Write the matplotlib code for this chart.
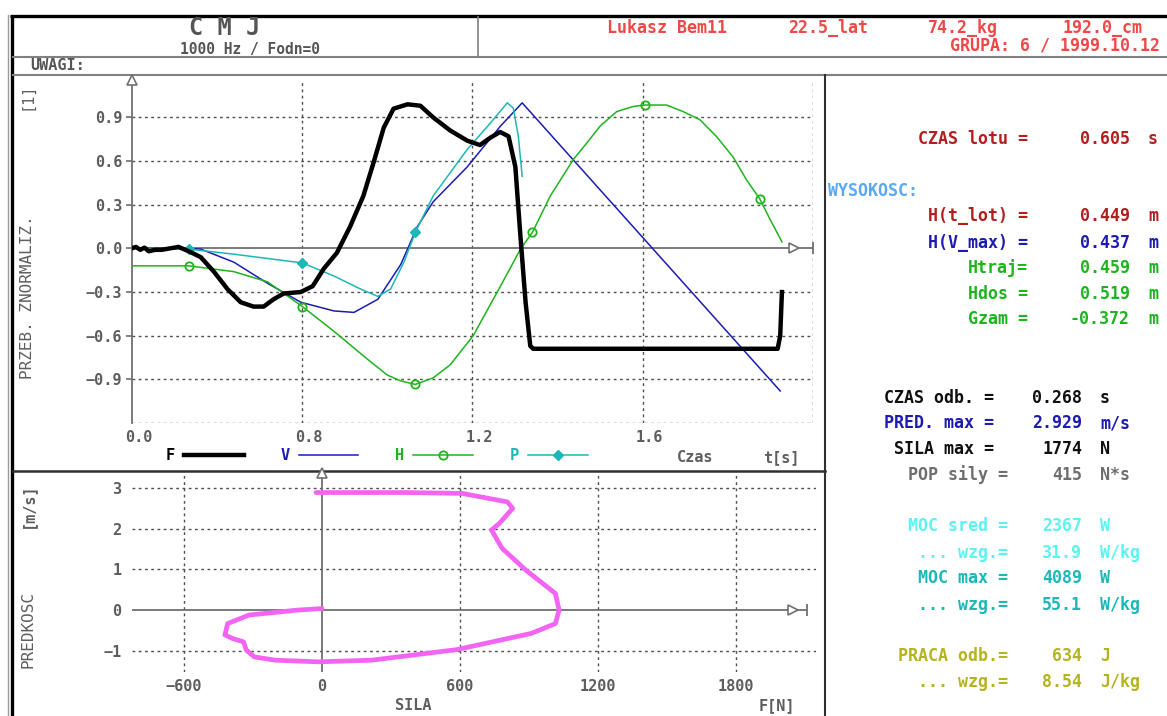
import matplotlib.pyplot as plt
from matplotlib import transforms as mtransforms

# ---- normalised jump traces (time axis in s) ----
f_t = [0.400, 0.410, 0.420, 0.430, 0.440, 0.455, 0.470, 0.490, 0.510, 0.534, 0.562, 0.593,
       0.625, 0.656, 0.686, 0.710, 0.733, 0.757, 0.797, 0.825, 0.851, 0.882, 0.913, 0.944,
       0.968, 0.992, 1.015, 1.048, 1.078, 1.108, 1.148, 1.188, 1.218, 1.242, 1.265, 1.285,
       1.301, 1.313, 1.325, 1.336, 1.343, 1.917, 1.923, 1.927]
f_val = [0.0, 0.01, -0.01, 0.005, -0.02, -0.01, -0.01, 0.0, 0.01, -0.02, -0.06, -0.16,
         -0.28, -0.37, -0.40, -0.40, -0.35, -0.31, -0.30, -0.26, -0.14, -0.03, 0.15, 0.36,
         0.59, 0.83, 0.96, 0.99, 0.98, 0.90, 0.81, 0.74, 0.71, 0.76, 0.80, 0.77,
         0.56, 0.08, -0.37, -0.67, -0.69, -0.69, -0.60, -0.30]

v_t = [0.400, 0.530, 0.562, 0.640, 0.719, 0.797, 0.875, 0.922, 0.978, 1.032, 1.071, 1.108,
       1.188, 1.266, 1.317, 1.923]
v_val = [0.0, 0.0, -0.005, -0.095, -0.24, -0.37, -0.43, -0.44, -0.35, -0.11, 0.15, 0.32,
         0.56, 0.84, 1.0, -0.98]

h_t = [0.400, 0.534, 0.640, 0.719, 0.801, 0.875, 0.953, 1.000, 1.031, 1.066, 1.108, 1.148,
       1.202, 1.266, 1.313, 1.341, 1.383, 1.437, 1.469, 1.500, 1.539, 1.578, 1.606, 1.656,
       1.695, 1.734, 1.773, 1.813, 1.844, 1.875, 1.899, 1.927]
h_val = [-0.12, -0.12, -0.16, -0.23, -0.40, -0.57, -0.76, -0.87, -0.91, -0.935, -0.89, -0.80,
         -0.60, -0.26, -0.005, 0.11, 0.36, 0.61, 0.725, 0.84, 0.94, 0.975, 0.985, 0.985,
         0.94, 0.885, 0.77, 0.625, 0.47, 0.34, 0.20, 0.045]
h_marks = [1, 4, 9, 15, 22, 29]

p_t = [0.400, 0.534, 0.640, 0.801, 0.875, 0.938, 0.978, 1.008, 1.040, 1.066, 1.108, 1.188,
       1.242, 1.282, 1.296, 1.308, 1.317]
p_val = [0.0, -0.005, -0.04, -0.10, -0.19, -0.28, -0.33, -0.28, -0.09, 0.11, 0.36, 0.68,
         0.86, 1.0, 0.965, 0.77, 0.495]
p_marks = [1, 3, 9]

t_grid = [0.8, 1.2, 1.6, 2.0]
t_ticks = [0.4, 0.8, 1.2, 1.6]
t_labels = ['0.0', '0.8', '1.2', '1.6']
n_ticks = [-0.9, -0.6, -0.3, 0.0, 0.3, 0.6, 0.9]
n_labels = ['\u22120.9', '\u22120.6', '\u22120.3', '0.0', '0.3', '0.6', '0.9']
n_grid = [-1.2, -0.9, -0.6, -0.3, 0.3, 0.6, 0.9]

# ---- force / velocity loop ----
sila = [0, -109, -317, -410, -422, -387, -341, -329, -294, -202, -16, 215, 586, 911, 1015,
        1031, 1015, 887, 783, 737, 771, 829, 806, 609, 354, -26]
predkosc = [0.04, 0.0, -0.12, -0.33, -0.61, -0.70, -0.78, -0.98, -1.15, -1.23, -1.27, -1.23,
            -0.97, -0.57, -0.33, 0.0, 0.41, 0.98, 1.52, 1.97, 2.13, 2.50, 2.66, 2.87, 2.89, 2.89]
sila_ticks = [-600, 0, 600, 1200, 1800]
sila_labels = ['\u2212600', '0', '600', '1200', '1800']
sila_grid = [-600, 600, 1200, 1800]
pred_ticks = [-1, 0, 1, 2, 3]
pred_labels = ['\u22121', '0', '1', '2', '3']
pred_grid = [-1, 1, 2, 3]

# ---- results table ----
stat_names = ['CZAS lotu =', 'H(t_lot) =', 'H(V_max) =', 'Htraj=', 'Hdos =', 'Gzam =',
              'CZAS odb. =', 'PRED. max =', 'SILA max =', 'POP sily =',
              'MOC sred =', '... wzg.=', 'MOC max =', '... wzg.=',
              'PRACA odb.=', '... wzg.=']
stat_values = ['0.605', '0.449', '0.437', '0.459', '0.519', '-0.372',
               '0.268', '2.929', '1774', '415', '2367', '31.9', '4089', '55.1', '634', '8.54']
stat_units = ['s', 'm', 'm', 'm', 'm', 'm', 's', 'm/s', 'N', 'N*s',
              'W', 'W/kg', 'W', 'W/kg', 'J', 'J/kg']

person = ['Lukasz Bem11', '22.5_lat', '74.2_kg', '192.0_cm']
group_line = 'GRUPA: 6 / 1999.10.12'

W, H = 1167, 716
plt.rcParams['font.family'] = ['DejaVu Sans Mono']
plt.rcParams['font.weight'] = 'bold'
fig = plt.figure(figsize=(W / 100, H / 100), dpi=100)

GRAY = '#5e5e5e'
AXIS = '#707070'
DARKRED = '#b41e1e'
BLUE = '#1c1cb4'
GREEN = '#1eb41e'
CYAN = '#1cb8b8'
TXT = 12


def px_axes(left, top, right, bottom, **kw):
    return fig.add_axes([left / W, 1 - bottom / H, (right - left) / W, (bottom - top) / H], **kw)


# screen frame, drawn in pixel units
frame = px_axes(0, 0, W, H, zorder=0)
frame.set_xlim(0, W)
frame.set_ylim(H, 0)
frame.axis('off')
frame.plot([10, W], [16, 16], color='black', lw=2.4, solid_capstyle='butt')
frame.plot([12, 12], [15, H], color='black', lw=2.4, solid_capstyle='butt')
frame.plot([8, 8], [15, H], color='#9a9a9a', lw=1.0)
frame.plot([478, 478], [17, 57], color='#808080', lw=1.2)
frame.plot([13, W], [57, 57], color='#808080', lw=1.5)
frame.plot([13, W], [75, 75], color='#808080', lw=1.5)
frame.plot([825, 825], [75, H], color='#303030', lw=1.5)
frame.plot([13, 825], [471, 471], color='#303030', lw=1.8)

# header
frame.text(225, 35, 'C M J', fontsize=17, color='#555555', ha='center', va='baseline')
frame.text(250, 54, '1000 Hz / Fodn=0', fontsize=10.5, color='#555555', ha='center',
           va='baseline')
frame.text(30, 66, 'UWAGI:', fontsize=11, color='#555555', ha='left', va='center')
for name, cx in zip(person, [667, 828, 963, 1102]):
    frame.text(cx, 28, name, fontsize=TXT, color='#f04848', ha='center', va='center')
frame.text(1160, 45, group_line, fontsize=TXT, color='#f04848', ha='right', va='center')

# side labels
frame.text(27, 96, '[1]', rotation=90, fontsize=11, color=GRAY, fontweight='normal',
           ha='center', va='center')
frame.text(28, 297, 'PRZEB. ZNORMALIZ.', rotation=90, fontsize=11.5, color=GRAY,
           fontweight='normal', ha='center', va='center')
frame.text(28, 505, '[m/s]', rotation=90, fontsize=11, color=GRAY, ha='center', va='center')
frame.text(28, 629, 'PREDKOSC', rotation=90, fontsize=11.5, color=GRAY, fontweight='normal',
           ha='center', va='center')

# results table
stat_y = [139, 216, 243, 268, 294, 319, 398, 423, 449, 475, 526, 553, 578, 605, 656, 682]
stat_eq_x = [1028] * 6 + [994, 994, 994, 1008, 1008, 1008, 1008, 1008, 1008, 1008]
stat_val_x = [1130] * 6 + [1082] * 10
stat_unit_x = [1148] * 6 + [1100] * 10
stat_colors = [DARKRED, DARKRED, BLUE, GREEN, GREEN, GREEN, '#101010', BLUE, '#101010',
               '#6e6e6e', '#5cf2f2', '#5cf2f2', CYAN, CYAN, '#b4b41e', '#b4b41e']
for i in range(len(stat_names)):
    kw = dict(fontsize=TXT, color=stat_colors[i], va='center')
    frame.text(stat_eq_x[i], stat_y[i], stat_names[i], ha='right', **kw)
    frame.text(stat_val_x[i], stat_y[i], stat_values[i], ha='right', **kw)
    frame.text(stat_unit_x[i], stat_y[i], stat_units[i], ha='left', **kw)
frame.text(828, 191, 'WYSOKOSC:', fontsize=TXT, color='#58a8f4', ha='left', va='center')

# ---- top chart: normalised curves ----
ax = px_axes(131.7, 80, 813, 423, zorder=2)
ax.patch.set_alpha(0)
ax.set_xlim(0.4, 2.0)
ax.set_ylim(-1.2, 1.157)
for s in ax.spines.values():
    s.set_visible(False)
grid_kw = dict(color='#505050', lw=1.0, ls=(0, (2, 2.5)), zorder=1)
for x in t_grid:
    ax.axvline(x, **grid_kw)
for y in n_grid:
    ax.axhline(y, **grid_kw)
ax.axvline(0.4, color=AXIS, lw=1.3, clip_on=False, zorder=2)
ax.axhline(0, color=AXIS, lw=1.3, zorder=2)
ax.plot([0.4], [1.157], marker='^', ms=7, mfc='white', mec=AXIS, mew=1.2, clip_on=False, zorder=6)
ax.plot([1.955], [0], marker='>', ms=7, mfc='white', mec=AXIS, mew=1.2, zorder=6)
ax.plot([2.0], [0], marker='|', ms=8, color=AXIS, mew=1.3, clip_on=False, zorder=6)

ax.set_yticks(n_ticks, labels=n_labels)
ax.tick_params(axis='y', length=4.3, width=1.2, color=AXIS, pad=2.5, labelsize=11,
               labelcolor=GRAY)
ax.set_xticks([])
lab_tr = mtransforms.offset_copy(ax.transData, fig=fig, x=7, y=-7, units='dots')
for x, lab in zip(t_ticks, t_labels):
    ax.text(x, -1.2, lab, transform=lab_tr, ha='center', va='top', fontsize=11, color=GRAY)

ln_f, = ax.plot(f_t, f_val, color='black', lw=3.2, label='F', zorder=5, solid_joinstyle='round')
ln_v, = ax.plot(v_t, v_val, color=BLUE, lw=1.1, label='V', zorder=4)
ln_h, = ax.plot(h_t, h_val, color=GREEN, lw=1.1, marker='o', ms=6, mfc='none', mew=1.3,
                markevery=h_marks, label='H', zorder=4)
ln_p, = ax.plot(p_t, p_val, color=CYAN, lw=1.1, marker='D', ms=5, markevery=p_marks,
                label='P', zorder=4)

ax.legend(handles=[ln_f, ln_v, ln_h, ln_p], loc='center left',
          bbox_to_anchor=(166 / W, 1 - 456 / H), bbox_transform=fig.transFigure,
          ncol=4, markerfirst=False, frameon=False, handlelength=3.9, handletextpad=0.6,
          columnspacing=2.4, borderpad=0, borderaxespad=0, labelcolor='linecolor',
          prop=dict(family='DejaVu Sans Mono', weight='bold', size=11))
frame.text(695, 458, 'Czas', fontsize=11, color=GRAY, ha='center', va='center')
frame.text(781, 458, 't[s]', fontsize=11, color=GRAY, ha='center', va='center')

# ---- bottom chart: force vs velocity ----
bx = px_axes(132, 473, 816, 672, zorder=2)
bx.patch.set_alpha(0)
bx.set_xlim(-826, 2148)
bx.set_ylim(-1.52, 3.37)
for s in bx.spines.values():
    s.set_visible(False)
for x in sila_grid:
    bx.axvline(x, **grid_kw)
for y in pred_grid:
    bx.axhline(y, **grid_kw)
bx.axvline(0, color=AXIS, lw=1.3, zorder=2)
bx.axhline(0, color=AXIS, lw=1.3, xmax=0.985, zorder=2)
bx.plot([0], [3.37], marker='^', ms=7, mfc='white', mec=AXIS, mew=1.2, clip_on=False, zorder=6)
bx.plot([2050], [0], marker='>', ms=7, mfc='white', mec=AXIS, mew=1.2, zorder=6)
bx.plot([2110], [0], marker='|', ms=8, color=AXIS, mew=1.3, zorder=6)

bx.set_xticks(sila_ticks, labels=sila_labels)
bx.set_yticks(pred_ticks, labels=pred_labels)
bx.tick_params(axis='x', length=0, pad=5, labelsize=11, labelcolor=GRAY)
bx.tick_params(axis='y', length=0, pad=7.5, labelsize=11, labelcolor=GRAY)

bx.plot(sila, predkosc, color='#f364f3', lw=3.4, zorder=5, solid_joinstyle='round',
        solid_capstyle='round')
frame.text(413, 706, 'SILA', fontsize=11, color=GRAY, ha='center', va='center')
frame.text(777, 706, 'F[N]', fontsize=11, color=GRAY, ha='center', va='center')

fig.savefig('out.png', dpi=100)
